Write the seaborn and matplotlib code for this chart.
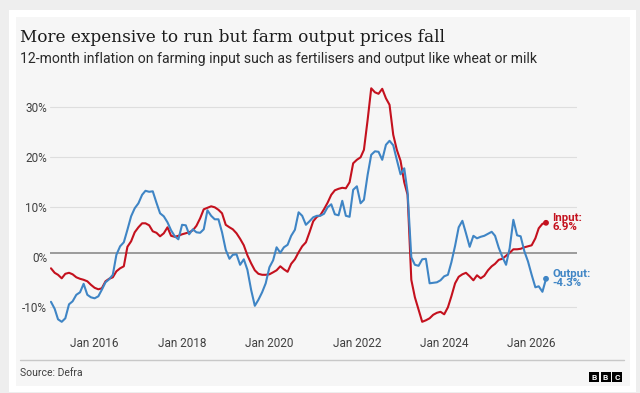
import numpy as np
import pandas as pd
import seaborn as sns
import matplotlib.pyplot as plt
from matplotlib.patches import Rectangle
from matplotlib.lines import Line2D

sns.set_style("white")
plt.rcParams['font.family'] = ['Roboto', 'DejaVu Sans']
plt.rcParams['lines.solid_joinstyle'] = 'round'

# monthly 12-month inflation, %, starting Jan 2015
start_month = '2015-01-01'
input_pct = [
    -2.2, -3.1, -3.5, -4.2, -3.3, -3.1, -3.4, -4.0, -4.3, -4.5, -4.8, -5.5,
    -6.1, -6.4, -6.2, -4.8, -4.3, -4.0, -2.8, -2.2, -1.8, 2.1, 3.2, 5.0,
    6.0, 6.8, 6.8, 6.4, 5.2, 4.9, 4.2, 4.8, 6.0, 4.3, 4.1, 4.3,
    4.6, 4.8, 5.0, 5.4, 6.3, 7.8, 9.6, 9.9, 10.2, 10.0, 9.5, 8.8,
    6.5, 6.0, 5.6, 4.8, 3.7, 2.4, 0.4, -1.2, -2.6, -3.3, -3.5, -3.5,
    -3.4, -3.0, -2.6, -1.8, -2.4, -2.9, -1.3, -0.4, 1.0, 2.2, 3.0, 5.0,
    7.2, 8.1, 8.4, 9.6, 10.9, 12.5, 13.4, 13.7, 13.9, 13.8, 15.0, 18.8,
    19.5, 20.0, 21.5, 27.5, 33.8, 33.0, 32.7, 33.7, 31.8, 30.5, 24.5, 21.5,
    19.3, 15.0, 12.5, -4.5, -8.0, -10.5, -12.9, -12.6, -12.2, -11.5, -11.1, -10.9,
    -11.4, -10.0, -7.8, -5.2, -3.9, -3.4, -3.1, -3.8, -4.6, -3.6, -4.2, -3.7,
    -2.6, -1.8, -1.3, -0.5, -0.3, 0.3, 0.9, 1.6, 1.6, 1.7, 2.0, 2.2,
    2.4, 3.8, 5.8, 6.7, 6.9,
]
output_pct = [
    -8.9, -10.3, -12.4, -12.9, -12.2, -9.4, -8.8, -7.5, -7.0, -5.3, -7.5, -8.0,
    -8.2, -7.8, -6.5, -5.0, -4.4, -3.5, 0.5, 2.2, 3.0, 5.5, 8.2, 9.8,
    10.8, 12.5, 13.3, 13.1, 13.2, 10.9, 8.8, 8.2, 7.0, 5.4, 4.2, 3.6,
    6.5, 6.4, 4.6, 5.6, 5.0, 4.9, 5.6, 9.4, 8.3, 7.6, 7.6, 5.0,
    1.5, -0.3, 0.5, 0.6, -1.5, -0.4, -2.5, -6.5, -9.7, -8.5, -7.0, -5.2,
    -2.0, -0.6, 2.0, 0.9, 2.0, 2.5, 4.3, 5.5, 9.0, 8.3, 6.5, 7.2,
    8.0, 8.3, 8.3, 8.7, 10.0, 10.6, 8.6, 8.4, 11.3, 8.3, 8.1, 13.5,
    14.2, 10.8, 11.5, 16.5, 20.5, 21.2, 21.1, 19.5, 22.5, 23.3, 22.4, 19.5,
    16.6, 17.8, 13.0, 0.0, -1.5, -1.7, -0.4, -0.3, -5.2, -5.1, -5.0, -4.6,
    -3.8, -3.5, -1.0, 2.3, 6.0, 7.3, 4.8, 2.1, 4.3, 3.8, 4.1, 4.3,
    4.7, 5.1, 4.3, 1.9, 0.1, -1.5, 1.8, 7.5, 4.4, 4.2, 1.2, -0.8,
    -3.5, -6.0, -5.8, -6.9, -4.3,
]
y_ticks = [-10, 0, 10, 20, 30]
x_tick_years = [2016, 2018, 2020, 2022, 2024, 2026]

months = pd.date_range(start_month, periods=len(input_pct), freq='MS')
df = pd.DataFrame({'month': months, 'Input': input_pct, 'Output': output_pct})
long = df.melt(id_vars='month', var_name='series', value_name='pct')

red = '#c4111e'
blue = '#3f85c5'
W, H = 640, 393

fig = plt.figure(figsize=(6.4, 3.93), dpi=100)
fig.patch.set_facecolor('#eeeeee')
# white frame + light card
fig.patches.append(Rectangle((9/W, 1-392/H), 627/W, 382/H, transform=fig.transFigure,
                             facecolor='white', edgecolor='none', zorder=-3))
fig.patches.append(Rectangle((15.5/W, 1-386/H), 614.5/W, 369/H, transform=fig.transFigure,
                             facecolor='#f6f6f6', edgecolor='none', zorder=-2))

ax = fig.add_axes([50/W, 1-338.8/H, 527/W, 256.5/H])
ax.set_facecolor('none')

sns.lineplot(data=long, x='month', y='pct', hue='series',
             palette={'Input': red, 'Output': blue}, linewidth=1.5,
             legend=False, ax=ax, zorder=3)

ax.axhline(0.9, color='#8c8c8c', lw=1.2, zorder=2)

ax.set_ylim(-16.3, 35.0)
ax.set_xlim(pd.Timestamp('2014-12-24'), pd.Timestamp('2027-01-15'))
ax.set_yticks(y_ticks)
ax.set_yticklabels([f'{v}%' for v in y_ticks])
ax.yaxis.grid(True, color='#dedede', lw=0.8)
ax.get_ygridlines()[1].set_visible(False)
ax.set_xticks([pd.Timestamp(f'{y}-01-01') for y in x_tick_years])
ax.set_xticklabels([f'Jan {y}' for y in x_tick_years])
ax.tick_params(axis='y', length=0, pad=2, labelsize=8.5, labelcolor='#404040')
ax.tick_params(axis='x', length=3, width=0.8, color='#999999', pad=-4.5,
               labelsize=8.5, labelcolor='#404040', direction='out')
ax.set_xlabel('')
ax.set_ylabel('')
sns.despine(ax=ax, left=True, bottom=True)

# end markers and labels
ax.scatter([months[-1], months[-1]], [input_pct[-1], output_pct[-1]],
           color=[red, blue], s=10, zorder=5)
ax.annotate(f'Input:\n{input_pct[-1]}%', xy=(months[-1], input_pct[-1]),
            xytext=(4.5, 0), textcoords='offset points', va='center', ha='left',
            color=red, fontweight='bold', fontsize=8.2, linespacing=0.9)
ax.annotate(f'Output:\n{output_pct[-1]}%', xy=(months[-1], output_pct[-1]),
            xytext=(4.5, 0), textcoords='offset points', va='center', ha='left',
            color=blue, fontweight='bold', fontsize=8.2, linespacing=0.9)

# titles
fig.text(20/W, 1-37/H, 'More expensive to run but farm output prices fall',
         family=['DejaVu Serif'], fontsize=12.2, color='#1a1a1a', va='center')
fig.text(20/W, 1-59/H, '12-month inflation on farming input such as fertilisers and output like wheat or milk',
         fontsize=10.1, color='#2a2a2a', va='center')

# footer
fig.add_artist(Line2D([20/W, 624/W], [1-360/H]*2, color='#c8c8c8', lw=1))
fig.text(20/W, 1-373/H, 'Source: Defra', fontsize=7.5, color='#404040', va='center')
for i, letter in enumerate('BBC'):
    x0 = 589 + i*11.5
    fig.patches.append(Rectangle((x0/W, 1-382/H), 10/W, 10/H, transform=fig.transFigure,
                                 facecolor='black', edgecolor='none'))
    fig.text((x0+5)/W, 1-377/H, letter, color='white', fontsize=6, fontweight='bold',
             ha='center', va='center')

fig.savefig('out.png', dpi=100, facecolor=fig.get_facecolor())
